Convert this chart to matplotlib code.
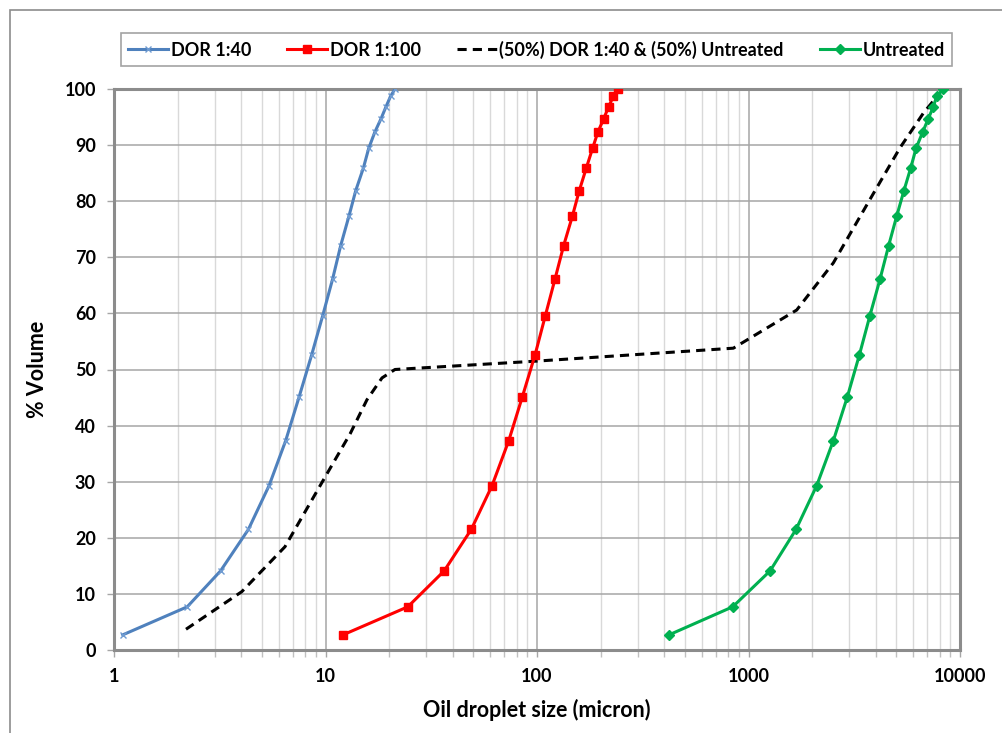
import numpy as np
import matplotlib
matplotlib.use('Agg')
import matplotlib.pyplot as plt
from matplotlib.patches import Rectangle

plt.rcParams['font.family'] = ['Lato', 'DejaVu Sans']
plt.rcParams['font.weight'] = 'bold'

# cumulative % volume (same grid for the three measured series)
pct = [2.7, 7.7, 14.1, 21.5, 29.3, 37.3, 45.1, 52.6, 59.6, 66.1,
       72.1, 77.3, 81.9, 85.9, 89.4, 92.3, 94.7, 96.8, 98.7, 100]

# droplet sizes (micron)
dor_40 = [1.1, 2.22, 3.19, 4.32, 5.41, 6.48, 7.5, 8.6, 9.7, 10.8,
          11.8, 12.9, 13.9, 15.1, 16.0, 17.1, 18.3, 19.3, 20.3, 21.3]
dor_100 = [12.1, 24.5, 36.4, 48.9, 61.3, 73.5, 85.2, 97.9, 109.5, 121.6,
           133.7, 146.9, 158.5, 171, 183, 194, 206.6, 218, 229.4, 242]
untreated = [421, 842, 1265, 1678, 2101, 2518, 2932, 3344, 3750, 4186,
             4600, 5016, 5433, 5845, 6194, 6657, 7080, 7475, 7760, 8340]

# 50/50 mixture curve
mix_x = [2.19, 4.02, 6.43, 9.77, 13.1, 15.7, 18.5, 21.3, 100, 848,
         1690, 2518, 3750, 5200, 6710, 8040]
mix_y = [3.7, 10.4, 18.4, 30.3, 38.6, 44.6, 48.5, 50.0, 51.5, 53.8,
         60.6, 69.0, 80.3, 89.5, 95.7, 99.3]

fig = plt.figure(figsize=(10.02, 7.33), dpi=100)
ax = fig.add_axes([114 / 1002, 1 - 650 / 733, 846 / 1002, 561 / 733])

ax.plot(dor_40, pct, color='#4F81BD', lw=2.2, marker='x', ms=5, mew=1.0,
        mec='#6f9bd1', label='DOR 1:40', zorder=4)
ax.plot(dor_100, pct, color='#FF0000', lw=2.2, marker='s', ms=6,
        label='DOR 1:100', zorder=4)
ax.plot(mix_x, mix_y, color='black', lw=2.2, ls=(0, (3, 2)),
        label='(50%) DOR 1:40 & (50%) Untreated', zorder=3)
ax.plot(untreated, pct, color='#00B050', lw=2.2, marker='D', ms=5,
        label='Untreated', zorder=4)

ax.set_xscale('log')
ax.set_xlim(1, 10000)
ax.set_ylim(0, 100)
ax.set_yticks(np.arange(0, 101, 10))
ax.set_xticks([1, 10, 100, 1000, 10000])
ax.set_xticklabels(['1', '10', '100', '1000', '10000'])
ax.xaxis.set_minor_locator(matplotlib.ticker.LogLocator(base=10, subs=np.arange(2, 10)))
ax.xaxis.set_minor_formatter(matplotlib.ticker.NullFormatter())

ax.grid(True, which='major', color='#a6a6a6', lw=1.1, zorder=0)
ax.grid(True, which='minor', axis='x', color='#d9d9d9', lw=1.0, zorder=0)
ax.set_axisbelow(True)
for s in ax.spines.values():
    s.set_color('#8c8c8c')
    s.set_linewidth(2.2)

ax.tick_params(axis='both', which='major', labelsize=13, length=5, width=1,
               color='#a6a6a6', pad=8)
ax.tick_params(axis='x', which='minor', length=5, width=1, color='#c0c0c0')
ax.tick_params(axis='x', which='major', pad=8)
for lab in ax.get_xticklabels() + ax.get_yticklabels():
    lab.set_fontweight('bold')

ax.set_xlabel('Oil droplet size (micron)', fontsize=15.5, fontweight='bold', labelpad=10)
ax.set_ylabel('% Volume', fontsize=15.5, fontweight='bold', labelpad=12)

leg = fig.legend(loc='center', ncol=4, frameon=True, fancybox=False,
                 bbox_to_anchor=(110 / 1002, 1 - 69 / 733, 853 / 1002, 39 / 733),
                 prop={'size': 13, 'weight': 'bold'}, handlelength=2.2,
                 columnspacing=2.0, handletextpad=0.15, borderaxespad=0)
leg.get_frame().set_edgecolor('#8c8c8c')
leg.get_frame().set_linewidth(1.2)

fig.patches.append(Rectangle((10 / 1002, -0.05), 1.05, 1 - 10 / 733 + 0.05,
                             transform=fig.transFigure, fill=False,
                             edgecolor='#8c8c8c', lw=1.2))

fig.savefig('out.png', dpi=100)
